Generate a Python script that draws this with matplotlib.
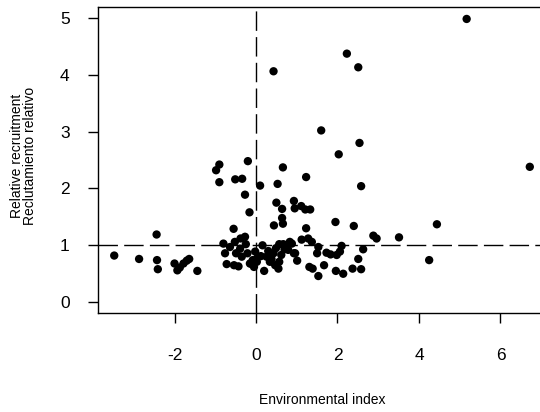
import matplotlib
matplotlib.use("Agg")
import matplotlib.pyplot as plt

# environmental index vs relative recruitment
env_index = [
    5.17, 2.23, 2.51, 0.43, 1.60, 2.54, 2.03, 6.72, -0.90, -0.98,
    -0.20, 0.66, 1.23, -0.90, -0.51, -0.34, 0.10, 0.53, 2.58, -0.27,
    0.50, 0.93, 0.64, 0.95, 1.11, 1.21, 1.33, -0.16, 0.64, 0.66,
    0.44, 1.23, 1.95, 2.40, 4.44, -0.55, -2.44, -3.48, -2.87, -2.43,
    -2.41, -2.00, -1.93, -1.87, -1.78, -1.70, -1.64, -1.44, -0.80, -0.76,
    -0.64, -0.52, -0.38, -0.27, -0.25, -0.39, -0.49, -0.35, -0.21, -0.72,
    -0.54, -0.43, -0.08, -0.13, 0.02, -0.02, 0.16, 0.12, 0.26, 0.20,
    0.34, 0.43, 0.49, 0.57, 0.47, 0.57, 0.55, 0.67, 0.83, 0.79,
    0.93, 1.01, 1.12, 1.28, 1.31, 2.88, 2.96, 3.51, 4.25, 0.88,
    0.96, 1.37, 1.53, 1.50, 1.39, 1.53, 1.67, 1.73, 1.83, 1.98,
    2.06, 2.10, 1.96, 2.14, 2.37, 2.51, 2.58, 2.63, -0.15, 0.05,
    0.30, 0.38, 0.62, -0.05, 0.70,
]
rel_recruit = [
    4.98, 4.37, 4.13, 4.06, 3.02, 2.80, 2.60, 2.38, 2.42, 2.32,
    2.48, 2.37, 2.20, 2.11, 2.16, 2.17, 2.05, 2.08, 2.04, 1.89,
    1.75, 1.78, 1.64, 1.65, 1.69, 1.63, 1.63, 1.58, 1.48, 1.38,
    1.35, 1.30, 1.41, 1.34, 1.37, 1.29, 1.19, 0.82, 0.76, 0.74,
    0.58, 0.68, 0.56, 0.61, 0.68, 0.73, 0.76, 0.55, 1.03, 0.86,
    0.97, 1.06, 1.12, 1.15, 1.02, 0.94, 0.86, 0.80, 0.86, 0.67,
    0.65, 0.63, 0.74, 0.68, 0.71, 0.89, 1.00, 0.81, 0.80, 0.55,
    0.71, 0.86, 0.95, 1.02, 0.65, 0.71, 0.59, 1.02, 1.06, 0.92,
    0.86, 0.73, 1.10, 1.12, 0.62, 1.17, 1.12, 1.14, 0.74, 1.03,
    0.86, 1.06, 0.97, 0.86, 0.59, 0.46, 0.65, 0.87, 0.84, 0.83,
    0.89, 0.99, 0.55, 0.50, 0.59, 0.76, 0.58, 0.93, 0.68, 0.80,
    0.90, 0.76, 0.83, 0.62, 0.93,
]
x_ticks = [-2, 0, 2, 4, 6]
y_ticks = [0, 1, 2, 3, 4, 5]

plt.rcParams["font.family"] = ["Liberation Sans", "DejaVu Sans"]

fig = plt.figure(figsize=(5.4, 4.12), dpi=100)
# box runs off the right edge of the picture, like the original
ax = fig.add_axes([0.1806, 0.2403, 0.8254, 0.7427])

ax.axvline(0, color="black", lw=1, dashes=(14, 4.5), zorder=1)
ax.axhline(1, color="black", lw=1, dashes=(14, 4.5), zorder=1)
ax.scatter(env_index, rel_recruit, s=36, color="black", edgecolors="none", zorder=3)

ax.set_xlim(-3.89, 7.05)
ax.set_ylim(-0.19, 5.19)
ax.set_xticks(x_ticks)
ax.set_yticks(y_ticks)
ax.set_xticklabels([str(v) for v in x_ticks])
ax.set_yticklabels([str(v) for v in y_ticks])
ax.tick_params(axis="x", length=7, width=1, labelsize=12.5, pad=18)
ax.tick_params(axis="y", length=7, width=1, labelsize=12.5, pad=13)
for sp in ax.spines.values():
    sp.set_linewidth(1)
    sp.set_color("black")

fig.text(0.596, 0.029, "Environmental index", ha="center", va="center", fontsize=10)
fig.text(0.044, 0.622, "Relative recruitment\nReclutamiento relativo",
         ha="center", va="center", rotation=90, fontsize=10, linespacing=0.95)

fig.savefig("out.png", dpi=100)
